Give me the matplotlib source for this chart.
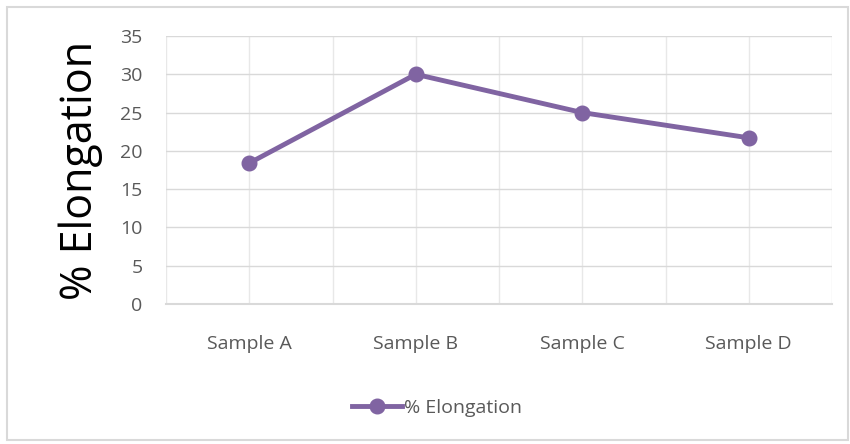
import matplotlib
matplotlib.use("Agg")
import matplotlib.pyplot as plt
from matplotlib.patches import Rectangle

samples = ["Sample A", "Sample B", "Sample C", "Sample D"]
elongation = [18.4, 30.0, 25.0, 21.7]
y_ticks = [0, 5, 10, 15, 20, 25, 30, 35]

purple = "#8064A2"
text_grey = "#595959"

plt.rcParams['font.family'] = ['Open Sans', 'DejaVu Sans']

fig = plt.figure(figsize=(8.5, 4.44), dpi=100)
# outer chart border
fig.patches.append(Rectangle((7/850, 4/444), 841/850, 433/444, transform=fig.transFigure,
                             fill=False, edgecolor="#D9D9D9", linewidth=1.5))

ax = fig.add_axes([166/850, 140/444, 666/850, 268/444])
x = list(range(len(samples)))
ax.plot(x, elongation, color=purple, linewidth=3.5, marker="o", markersize=10.5,
        label="% Elongation")

ax.set_xlim(-0.5, len(samples) - 0.5)
ax.set_ylim(0, 35)
ax.set_yticks(y_ticks)
ax.set_xticks(x)
ax.set_xticklabels(samples)

# gridlines at category centres and boundaries
for gx in [i * 0.5 - 0.5 for i in range(2 * len(samples) + 1)]:
    ax.axvline(gx, color="#E8E8E8", linewidth=1, zorder=0)
for gy in y_ticks[1:]:
    ax.axhline(gy, color="#D9D9D9", linewidth=1, zorder=0)

for s in ["top", "right", "left"]:
    ax.spines[s].set_visible(False)
ax.spines["bottom"].set_color("#D9D9D9")
ax.spines["bottom"].set_linewidth(1.5)

ax.tick_params(axis="both", length=0, labelsize=14, colors=text_grey)
ax.tick_params(axis="x", pad=22)
ax.tick_params(axis="y", pad=17)
ax.set_ylabel("% Elongation", fontsize=31, color="black", labelpad=12)

fig.legend(loc="center", bbox_to_anchor=(437/850, 1 - 408/444), frameon=False,
           fontsize=14, labelcolor=text_grey, handlelength=2.6, handletextpad=0.1)

fig.savefig("out.png", dpi=100)
